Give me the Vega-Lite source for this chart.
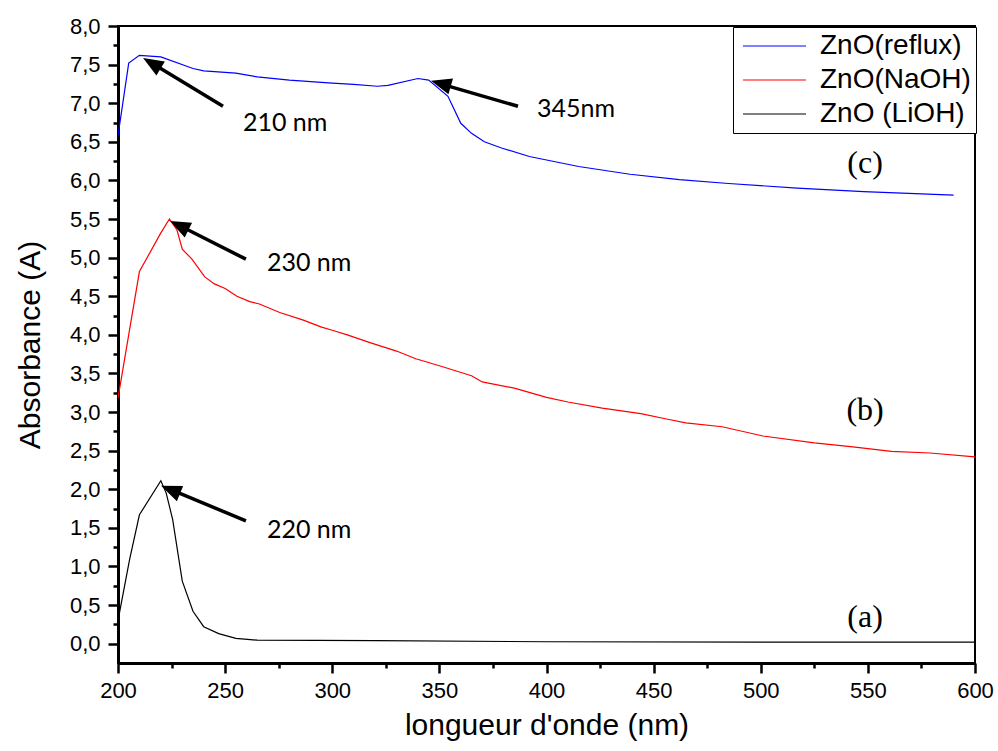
{
  "$schema": "https://vega.github.io/schema/vega-lite/v6.json",
  "width": 857,
  "height": 637,
  "autosize": {"type": "none"},
  "padding": {"left": 118, "top": 26, "right": 23, "bottom": 88},
  "background": "white",
  "config": {
    "view": {"stroke": "black", "strokeWidth": 2},
    "axis": {"grid": false, "domainColor": "black", "domainWidth": 3, "ticks": true, "tickColor": "black", "tickWidth": 2.5, "tickSize": 10, "labelFont": "Liberation Sans", "labelFontSize": 22, "labelColor": "black", "titleFont": "Liberation Sans", "titleFontSize": 30, "titleFontWeight": "normal", "titleColor": "black", "labelOverlap": false, "labelFlush": false},
    "axisX": {"labelPadding": 7, "titlePadding": 9},
    "axisY": {"labelPadding": 8, "titlePadding": 24}
  },
  "datasets": {
    "spectra": [
      {"sample": "ZnO(reflux)", "wavelength": 200, "absorbance": 6.58},
      {"sample": "ZnO(reflux)", "wavelength": 205, "absorbance": 7.52},
      {"sample": "ZnO(reflux)", "wavelength": 210, "absorbance": 7.62},
      {"sample": "ZnO(reflux)", "wavelength": 220, "absorbance": 7.60},
      {"sample": "ZnO(reflux)", "wavelength": 235, "absorbance": 7.45},
      {"sample": "ZnO(reflux)", "wavelength": 240, "absorbance": 7.42},
      {"sample": "ZnO(reflux)", "wavelength": 255, "absorbance": 7.39},
      {"sample": "ZnO(reflux)", "wavelength": 265, "absorbance": 7.34},
      {"sample": "ZnO(reflux)", "wavelength": 280, "absorbance": 7.30},
      {"sample": "ZnO(reflux)", "wavelength": 300, "absorbance": 7.26},
      {"sample": "ZnO(reflux)", "wavelength": 310, "absorbance": 7.245},
      {"sample": "ZnO(reflux)", "wavelength": 321, "absorbance": 7.22},
      {"sample": "ZnO(reflux)", "wavelength": 326, "absorbance": 7.23},
      {"sample": "ZnO(reflux)", "wavelength": 340, "absorbance": 7.32},
      {"sample": "ZnO(reflux)", "wavelength": 345, "absorbance": 7.30},
      {"sample": "ZnO(reflux)", "wavelength": 354, "absorbance": 7.09},
      {"sample": "ZnO(reflux)", "wavelength": 360, "absorbance": 6.74},
      {"sample": "ZnO(reflux)", "wavelength": 365, "absorbance": 6.61},
      {"sample": "ZnO(reflux)", "wavelength": 371, "absorbance": 6.50},
      {"sample": "ZnO(reflux)", "wavelength": 379, "absorbance": 6.42},
      {"sample": "ZnO(reflux)", "wavelength": 392, "absorbance": 6.31},
      {"sample": "ZnO(reflux)", "wavelength": 415, "absorbance": 6.18},
      {"sample": "ZnO(reflux)", "wavelength": 439, "absorbance": 6.08},
      {"sample": "ZnO(reflux)", "wavelength": 462, "absorbance": 6.01},
      {"sample": "ZnO(reflux)", "wavelength": 485, "absorbance": 5.96},
      {"sample": "ZnO(reflux)", "wavelength": 517, "absorbance": 5.90},
      {"sample": "ZnO(reflux)", "wavelength": 548, "absorbance": 5.855},
      {"sample": "ZnO(reflux)", "wavelength": 590, "absorbance": 5.81},
      {"sample": "ZnO(NaOH)", "wavelength": 200, "absorbance": 3.18},
      {"sample": "ZnO(NaOH)", "wavelength": 210, "absorbance": 4.82},
      {"sample": "ZnO(NaOH)", "wavelength": 220, "absorbance": 5.32},
      {"sample": "ZnO(NaOH)", "wavelength": 224, "absorbance": 5.50},
      {"sample": "ZnO(NaOH)", "wavelength": 227.5, "absorbance": 5.36},
      {"sample": "ZnO(NaOH)", "wavelength": 230, "absorbance": 5.11},
      {"sample": "ZnO(NaOH)", "wavelength": 234.5, "absorbance": 4.98},
      {"sample": "ZnO(NaOH)", "wavelength": 240.5, "absorbance": 4.75},
      {"sample": "ZnO(NaOH)", "wavelength": 245, "absorbance": 4.66},
      {"sample": "ZnO(NaOH)", "wavelength": 250, "absorbance": 4.60},
      {"sample": "ZnO(NaOH)", "wavelength": 255.5, "absorbance": 4.50},
      {"sample": "ZnO(NaOH)", "wavelength": 261.5, "absorbance": 4.43},
      {"sample": "ZnO(NaOH)", "wavelength": 266, "absorbance": 4.40},
      {"sample": "ZnO(NaOH)", "wavelength": 275.5, "absorbance": 4.29},
      {"sample": "ZnO(NaOH)", "wavelength": 286.5, "absorbance": 4.19},
      {"sample": "ZnO(NaOH)", "wavelength": 295, "absorbance": 4.10},
      {"sample": "ZnO(NaOH)", "wavelength": 300, "absorbance": 4.06},
      {"sample": "ZnO(NaOH)", "wavelength": 307, "absorbance": 4.00},
      {"sample": "ZnO(NaOH)", "wavelength": 317.6, "absorbance": 3.90},
      {"sample": "ZnO(NaOH)", "wavelength": 330, "absorbance": 3.79},
      {"sample": "ZnO(NaOH)", "wavelength": 339, "absorbance": 3.69},
      {"sample": "ZnO(NaOH)", "wavelength": 350, "absorbance": 3.60},
      {"sample": "ZnO(NaOH)", "wavelength": 365, "absorbance": 3.47},
      {"sample": "ZnO(NaOH)", "wavelength": 370, "absorbance": 3.39},
      {"sample": "ZnO(NaOH)", "wavelength": 385, "absorbance": 3.31},
      {"sample": "ZnO(NaOH)", "wavelength": 400, "absorbance": 3.19},
      {"sample": "ZnO(NaOH)", "wavelength": 410, "absorbance": 3.13},
      {"sample": "ZnO(NaOH)", "wavelength": 426, "absorbance": 3.05},
      {"sample": "ZnO(NaOH)", "wavelength": 444, "absorbance": 2.98},
      {"sample": "ZnO(NaOH)", "wavelength": 456, "absorbance": 2.91},
      {"sample": "ZnO(NaOH)", "wavelength": 465, "absorbance": 2.86},
      {"sample": "ZnO(NaOH)", "wavelength": 482, "absorbance": 2.81},
      {"sample": "ZnO(NaOH)", "wavelength": 501, "absorbance": 2.69},
      {"sample": "ZnO(NaOH)", "wavelength": 525, "absorbance": 2.60},
      {"sample": "ZnO(NaOH)", "wavelength": 543, "absorbance": 2.55},
      {"sample": "ZnO(NaOH)", "wavelength": 561, "absorbance": 2.49},
      {"sample": "ZnO(NaOH)", "wavelength": 579, "absorbance": 2.47},
      {"sample": "ZnO(NaOH)", "wavelength": 600, "absorbance": 2.42},
      {"sample": "ZnO (LiOH)", "wavelength": 200, "absorbance": 0.30},
      {"sample": "ZnO (LiOH)", "wavelength": 205.4, "absorbance": 1.09},
      {"sample": "ZnO (LiOH)", "wavelength": 210, "absorbance": 1.67},
      {"sample": "ZnO (LiOH)", "wavelength": 220, "absorbance": 2.11},
      {"sample": "ZnO (LiOH)", "wavelength": 222.5, "absorbance": 1.95},
      {"sample": "ZnO (LiOH)", "wavelength": 225.5, "absorbance": 1.61},
      {"sample": "ZnO (LiOH)", "wavelength": 230, "absorbance": 0.81},
      {"sample": "ZnO (LiOH)", "wavelength": 235, "absorbance": 0.42},
      {"sample": "ZnO (LiOH)", "wavelength": 240, "absorbance": 0.22},
      {"sample": "ZnO (LiOH)", "wavelength": 247, "absorbance": 0.13},
      {"sample": "ZnO (LiOH)", "wavelength": 255, "absorbance": 0.07},
      {"sample": "ZnO (LiOH)", "wavelength": 265, "absorbance": 0.045},
      {"sample": "ZnO (LiOH)", "wavelength": 320, "absorbance": 0.04},
      {"sample": "ZnO (LiOH)", "wavelength": 400, "absorbance": 0.025},
      {"sample": "ZnO (LiOH)", "wavelength": 500, "absorbance": 0.02},
      {"sample": "ZnO (LiOH)", "wavelength": 600, "absorbance": 0.02}
    ],
    "arrows": [
      {"label": "210 nm", "tail_x": 249.0, "tail_y": 6.96, "shaft_x": 215.7, "shaft_y": 7.52, "tip_x": 211.7, "tip_y": 7.586, "angle": 301, "text_x": 258.3, "text_y": 6.744},
      {"label": "345nm", "tail_x": 386.7, "tail_y": 6.96, "shaft_x": 350.6, "shaft_y": 7.25, "tip_x": 346.1, "tip_y": 7.29, "angle": 286, "text_x": 395.6, "text_y": 6.93},
      {"label": "230 nm", "tail_x": 259.7, "tail_y": 4.98, "shaft_x": 228.4, "shaft_y": 5.42, "tip_x": 224.3, "tip_y": 5.476, "angle": 296.6, "text_x": 269.5, "text_y": 4.93},
      {"label": "220 nm", "tail_x": 259.7, "tail_y": 1.59, "shaft_x": 224.4, "shaft_y": 2.0, "tip_x": 220.1, "tip_y": 2.045, "angle": 292.4, "text_x": 269.5, "text_y": 1.476}
    ],
    "letters": [
      {"label": "(c)", "x": 548.7, "y": 6.23},
      {"label": "(b)", "x": 548.7, "y": 3.03},
      {"label": "(a)", "x": 548.7, "y": 0.35}
    ]
  },
  "layer": [
    {
      "data": {"name": "spectra"},
      "mark": {"type": "line", "strokeWidth": 1.2, "clip": true},
      "encoding": {
        "x": {
          "field": "wavelength", "type": "quantitative",
          "scale": {"domain": [200, 600], "nice": false, "zero": false},
          "axis": {"title": "longueur d'onde (nm)", "values": [200, 225, 250, 275, 300, 325, 350, 375, 400, 425, 450, 475, 500, 525, 550, 575, 600], "labelExpr": "datum.value % 50 === 0 ? datum.label : ''", "tickSize": {"condition": {"test": "datum.value % 50 !== 0", "value": 5}, "value": 10}}
        },
        "y": {
          "field": "absorbance", "type": "quantitative",
          "scale": {"domain": [-0.25, 8], "nice": false, "zero": false},
          "axis": {"title": "Absorbance (A)", "values": [0, 0.25, 0.5, 0.75, 1, 1.25, 1.5, 1.75, 2, 2.25, 2.5, 2.75, 3, 3.25, 3.5, 3.75, 4, 4.25, 4.5, 4.75, 5, 5.25, 5.5, 5.75, 6, 6.25, 6.5, 6.75, 7, 7.25, 7.5, 7.75, 8], "labelExpr": "datum.value % 0.5 === 0 ? replace(format(datum.value, '.1f'), '.', ',') : ''", "tickSize": {"condition": {"test": "datum.value % 0.5 !== 0", "value": 5}, "value": 10}}
        },
        "color": {
          "field": "sample", "type": "nominal",
          "scale": {"domain": ["ZnO(reflux)", "ZnO(NaOH)", "ZnO (LiOH)"], "range": ["#0000ff", "#ff0000", "#000000"]},
          "legend": {
            "title": null, "orient": "none", "legendX": 615, "legendY": 1,
            "symbolType": "M-1,0H6", "symbolSize": 324, "symbolStrokeWidth": 1.2,
            "labelFont": "Liberation Sans", "labelFontSize": 28, "labelColor": "black",
            "labelOffset": 54, "rowPadding": 6, "padding": 5,
            "strokeColor": "black", "fillColor": "white",
            "encode": {"symbols": {"update": {"stroke": {"scale": "color", "field": "value"}, "fill": {"value": "transparent"}}}}
          }
        }
      }
    },
    {
      "data": {"name": "arrows"},
      "mark": {"type": "rule", "strokeWidth": 3.5, "color": "black"},
      "encoding": {
        "x": {"field": "tail_x", "type": "quantitative", "axis": {"title": "longueur d'onde (nm)", "values": [200, 225, 250, 275, 300, 325, 350, 375, 400, 425, 450, 475, 500, 525, 550, 575, 600], "labelExpr": "datum.value % 50 === 0 ? datum.label : ''", "tickSize": {"condition": {"test": "datum.value % 50 !== 0", "value": 5}, "value": 10}}},
        "y": {"field": "tail_y", "type": "quantitative", "axis": {"title": "Absorbance (A)", "values": [0, 0.25, 0.5, 0.75, 1, 1.25, 1.5, 1.75, 2, 2.25, 2.5, 2.75, 3, 3.25, 3.5, 3.75, 4, 4.25, 4.5, 4.75, 5, 5.25, 5.5, 5.75, 6, 6.25, 6.5, 6.75, 7, 7.25, 7.5, 7.75, 8], "labelExpr": "datum.value % 0.5 === 0 ? replace(format(datum.value, '.1f'), '.', ',') : ''", "tickSize": {"condition": {"test": "datum.value % 0.5 !== 0", "value": 5}, "value": 10}}},
        "x2": {"field": "shaft_x"},
        "y2": {"field": "shaft_y"}
      }
    },
    {
      "data": {"name": "arrows"},
      "mark": {"type": "point", "shape": "M0,0L0.8,2L-0.8,2Z", "filled": true, "color": "black", "opacity": 1, "size": 420},
      "encoding": {
        "x": {"field": "tip_x", "type": "quantitative", "axis": {"title": "longueur d'onde (nm)", "values": [200, 225, 250, 275, 300, 325, 350, 375, 400, 425, 450, 475, 500, 525, 550, 575, 600], "labelExpr": "datum.value % 50 === 0 ? datum.label : ''", "tickSize": {"condition": {"test": "datum.value % 50 !== 0", "value": 5}, "value": 10}}},
        "y": {"field": "tip_y", "type": "quantitative", "axis": {"title": "Absorbance (A)", "values": [0, 0.25, 0.5, 0.75, 1, 1.25, 1.5, 1.75, 2, 2.25, 2.5, 2.75, 3, 3.25, 3.5, 3.75, 4, 4.25, 4.5, 4.75, 5, 5.25, 5.5, 5.75, 6, 6.25, 6.5, 6.75, 7, 7.25, 7.5, 7.75, 8], "labelExpr": "datum.value % 0.5 === 0 ? replace(format(datum.value, '.1f'), '.', ',') : ''", "tickSize": {"condition": {"test": "datum.value % 0.5 !== 0", "value": 5}, "value": 10}}},
        "angle": {"field": "angle", "type": "quantitative", "scale": null}
      }
    },
    {
      "data": {"name": "arrows"},
      "mark": {"type": "text", "font": "Lato", "fontSize": 25, "align": "left", "baseline": "middle", "color": "black"},
      "encoding": {
        "x": {"field": "text_x", "type": "quantitative", "axis": {"title": "longueur d'onde (nm)", "values": [200, 225, 250, 275, 300, 325, 350, 375, 400, 425, 450, 475, 500, 525, 550, 575, 600], "labelExpr": "datum.value % 50 === 0 ? datum.label : ''", "tickSize": {"condition": {"test": "datum.value % 50 !== 0", "value": 5}, "value": 10}}},
        "y": {"field": "text_y", "type": "quantitative", "axis": {"title": "Absorbance (A)", "values": [0, 0.25, 0.5, 0.75, 1, 1.25, 1.5, 1.75, 2, 2.25, 2.5, 2.75, 3, 3.25, 3.5, 3.75, 4, 4.25, 4.5, 4.75, 5, 5.25, 5.5, 5.75, 6, 6.25, 6.5, 6.75, 7, 7.25, 7.5, 7.75, 8], "labelExpr": "datum.value % 0.5 === 0 ? replace(format(datum.value, '.1f'), '.', ',') : ''", "tickSize": {"condition": {"test": "datum.value % 0.5 !== 0", "value": 5}, "value": 10}}},
        "text": {"field": "label"}
      }
    },
    {
      "data": {"name": "letters"},
      "mark": {"type": "text", "font": "Liberation Serif", "fontSize": 32, "align": "center", "baseline": "middle", "color": "black"},
      "encoding": {
        "x": {"field": "x", "type": "quantitative", "axis": {"title": "longueur d'onde (nm)", "values": [200, 225, 250, 275, 300, 325, 350, 375, 400, 425, 450, 475, 500, 525, 550, 575, 600], "labelExpr": "datum.value % 50 === 0 ? datum.label : ''", "tickSize": {"condition": {"test": "datum.value % 50 !== 0", "value": 5}, "value": 10}}},
        "y": {"field": "y", "type": "quantitative", "axis": {"title": "Absorbance (A)", "values": [0, 0.25, 0.5, 0.75, 1, 1.25, 1.5, 1.75, 2, 2.25, 2.5, 2.75, 3, 3.25, 3.5, 3.75, 4, 4.25, 4.5, 4.75, 5, 5.25, 5.5, 5.75, 6, 6.25, 6.5, 6.75, 7, 7.25, 7.5, 7.75, 8], "labelExpr": "datum.value % 0.5 === 0 ? replace(format(datum.value, '.1f'), '.', ',') : ''", "tickSize": {"condition": {"test": "datum.value % 0.5 !== 0", "value": 5}, "value": 10}}},
        "text": {"field": "label"}
      }
    }
  ]
}
